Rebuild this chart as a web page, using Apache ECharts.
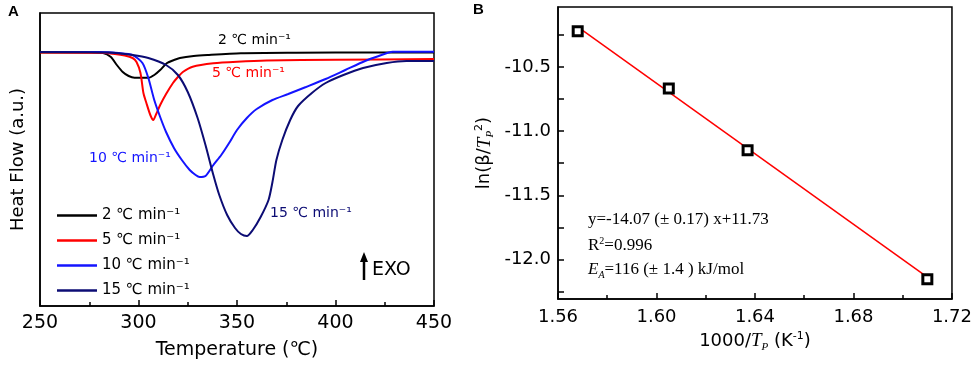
<!DOCTYPE html>
<html>
<head>
<meta charset="utf-8">
<script src="https://cdn.jsdelivr.net/npm/echarts@6/dist/echarts.min.js"></script>
<style>html,body{margin:0;padding:0;background:#fff}#main{width:975px;height:369px}</style>
</head>
<body>
<div id="main"></div>
<script>
// panel A - DSC curves at four heating rates
var rateNames = ['2 ℃ min⁻¹', '5 ℃ min⁻¹', '10 ℃ min⁻¹', '15 ℃ min⁻¹'];
var rateColors = ['#000000', '#ff0000', '#1414ff', '#0c0c74'];

var temp2 = [250, 275, 282, 286, 289, 292, 295, 298, 305, 308, 311, 314.5, 318, 321, 328, 335, 352, 380, 420, 450];
var hf2 = [-0.05, -0.05, -0.1, -0.5, -1.3, -2.0, -2.4, -2.57, -2.57, -2.3, -1.8, -1.1, -0.8, -0.6, -0.4, -0.3, -0.13, -0.08, -0.05, -0.05];

var temp5 = [250, 280, 288, 293, 297, 299, 301, 302.5, 304, 306, 307.5, 309, 311, 314, 317.5, 320, 322.5, 327.5, 338, 350, 365, 400, 450];
var hf5 = [-0.05, -0.08, -0.2, -0.35, -0.6, -1.0, -2.1, -4.1, -5.1, -6.3, -6.8, -6.2, -5.3, -4.2, -3.1, -2.5, -2.0, -1.47, -1.13, -0.97, -0.85, -0.78, -0.7];

var temp10 = [250, 280, 290, 297, 302, 305, 308, 311, 314, 318, 322, 326, 329, 331, 334, 338, 342, 346, 350, 355, 360, 368, 376, 385, 395, 405, 415, 422, 429, 450];
var hf10 = [0, 0, -0.1, -0.3, -1.1, -2.6, -4.8, -6.5, -8.0, -9.6, -10.8, -11.8, -12.3, -12.5, -12.4, -11.3, -10.3, -9.1, -7.8, -6.6, -5.7, -4.8, -4.2, -3.5, -2.7, -1.8, -0.9, -0.4, 0.03, 0.03];

var temp15 = [250, 285, 297, 305, 314, 320, 325, 330, 334, 338, 341, 345, 349, 352, 355, 358, 362, 366, 368, 370, 373, 377, 381, 388, 395, 404, 414, 426, 436, 450];
var hf15 = [0, -0.05, -0.3, -0.6, -1.3, -2.3, -4.0, -6.6, -9.3, -12.3, -14.3, -16.3, -17.6, -18.2, -18.4, -17.8, -16.5, -14.8, -13.0, -10.8, -8.8, -6.8, -5.4, -4.1, -3.1, -2.3, -1.6, -1.1, -0.9, -0.9];

// panel B - Kissinger plot
var invTp = [1.568, 1.605, 1.637, 1.710];
var lnBeta = [-10.219, -10.666, -11.148, -12.156];
var fitX = [1.569, 1.709];
var fitY = [-10.198, -12.125];
var bTickValues = [-12.25, -12, -11.75, -11.5, -11.25, -11, -10.75, -10.5, -10.25];
var bLabelValues = [-12, -11.5, -11, -10.5];

var sans = 'DejaVu Sans, Noto Sans CJK SC, sans-serif';
var serif = 'Liberation Serif, serif';

function pairs(xs, ys) {
  return xs.map(function (x, i) { return [x, ys[i]]; });
}

var curves = [[temp2, hf2], [temp5, hf5], [temp10, hf10], [temp15, hf15]];

var axLine = {onZero: false, lineStyle: {color: '#000', width: 1.5}};
var tickStyle = {color: '#000', width: 1.5};

var chart = echarts.init(document.getElementById('main'));

var series = curves.map(function (c, i) {
  return {
    name: rateNames[i],
    type: 'line',
    xAxisIndex: 0,
    yAxisIndex: 0,
    data: pairs(c[0], c[1]),
    symbol: 'none',
    smooth: 0.25,
    color: rateColors[i],
    lineStyle: {width: 2, color: rateColors[i]}
  };
});

series.push({
  type: 'line',
  xAxisIndex: 1,
  yAxisIndex: 1,
  data: pairs(fitX, fitY),
  symbol: 'none',
  lineStyle: {width: 1.5, color: '#ff0000'},
  z: 2
});
series.push({
  type: 'scatter',
  xAxisIndex: 1,
  yAxisIndex: 1,
  data: pairs(invTp, lnBeta),
  symbol: 'rect',
  symbolSize: 9,
  itemStyle: {color: '#fff', borderColor: '#000', borderWidth: 3, opacity: 1},
  z: 3
});

chart.setOption({
  animation: false,
  backgroundColor: '#fff',
  grid: [
    {left: 40, top: 13, width: 394, height: 293, show: true, borderColor: '#000', borderWidth: 1.5},
    {left: 558, top: 7, width: 394, height: 292, show: true, borderColor: '#000', borderWidth: 1.5}
  ],
  legend: {
    data: rateNames,
    orient: 'vertical',
    left: 52,
    top: 203,
    icon: 'rect',
    itemWidth: 40,
    itemHeight: 2.5,
    itemGap: 10,
    textStyle: {fontSize: 15, color: '#000', fontFamily: sans}
  },
  xAxis: [
    {
      gridIndex: 0, type: 'value', min: 250, max: 450, interval: 50,
      axisLine: axLine,
      axisTick: {inside: true, length: 6, lineStyle: tickStyle},
      minorTick: {show: true, splitNumber: 2, length: 4, lineStyle: tickStyle},
      axisLabel: {color: '#000', fontSize: 19, fontFamily: sans, margin: 8},
      splitLine: {show: false},
      name: 'Temperature (℃)', nameLocation: 'middle', nameGap: 35,
      nameTextStyle: {color: '#000', fontSize: 19, fontFamily: sans}
    },
    {
      gridIndex: 1, type: 'value', min: 1.56, max: 1.72, interval: 0.04,
      axisLine: axLine,
      axisTick: {inside: true, length: 6, lineStyle: tickStyle},
      minorTick: {show: true, splitNumber: 2, length: 4, lineStyle: tickStyle},
      axisLabel: {color: '#000', fontSize: 18, fontFamily: sans, margin: 9,
        formatter: function (v) { return v.toFixed(2); }},
      splitLine: {show: false},
      name: '{a|1000/}{t|T}{sub|P}{a| (K}{sup|-1}{a|)}', nameLocation: 'middle', nameGap: 30,
      nameTextStyle: {
        color: '#000', fontSize: 18, fontFamily: sans,
        rich: {
          a: {fontSize: 18, fontFamily: sans, color: '#000'},
          t: {fontSize: 19, fontFamily: serif, fontStyle: 'italic', color: '#000'},
          sub: {fontSize: 11, fontFamily: serif, fontStyle: 'italic', color: '#000', padding: [12, 0, 0, 0]},
          sup: {fontSize: 11, fontFamily: sans, color: '#000', padding: [0, 0, 10, 0]}
        }
      }
    }
  ],
  yAxis: [
    {
      gridIndex: 0, type: 'value', min: -25.4, max: 3.9,
      axisLine: axLine,
      axisTick: {show: false},
      axisLabel: {show: false},
      splitLine: {show: false},
      name: 'Heat Flow (a.u.)', nameLocation: 'middle', nameGap: 13,
      nameTextStyle: {color: '#000', fontSize: 18, fontFamily: sans}
    },
    {
      gridIndex: 1, type: 'value', min: -12.31, max: -10.03,
      axisLine: axLine,
      axisTick: {inside: true, length: 6, lineStyle: tickStyle, customValues: bTickValues},
      axisLabel: {color: '#000', fontSize: 18, fontFamily: sans, margin: 7,
        customValues: bLabelValues,
        formatter: function (v) { return v.toFixed(1); }},
      splitLine: {show: false},
      name: '{a|ln(β/}{t|T}{sub|P}{sup|2}{a|)}', nameLocation: 'middle', nameGap: 62,
      nameTextStyle: {
        color: '#000', fontSize: 18, fontFamily: sans,
        rich: {
          a: {fontSize: 18, fontFamily: sans, color: '#000'},
          t: {fontSize: 19, fontFamily: serif, fontStyle: 'italic', color: '#000'},
          sub: {fontSize: 11, fontFamily: serif, fontStyle: 'italic', color: '#000', padding: [12, 0, 0, 0]},
          sup: {fontSize: 11, fontFamily: sans, color: '#000', padding: [0, 0, 10, 0]}
        }
      }
    }
  ],
  graphic: [
    {type: 'text', x: 8, y: 12, style: {text: 'A', font: 'bold 15px Liberation Sans', fill: '#000', verticalAlign: 'middle'}},
    {type: 'text', x: 473, y: 10, style: {text: 'B', font: 'bold 15px Liberation Sans', fill: '#000', verticalAlign: 'middle'}},
    {type: 'text', x: 218, y: 40, style: {text: rateNames[0], fontSize: 14, fontFamily: sans, fill: rateColors[0], verticalAlign: 'middle'}},
    {type: 'text', x: 212, y: 73, style: {text: rateNames[1], fontSize: 14, fontFamily: sans, fill: rateColors[1], verticalAlign: 'middle'}},
    {type: 'text', x: 89, y: 158, style: {text: rateNames[2], fontSize: 14, fontFamily: sans, fill: rateColors[2], verticalAlign: 'middle'}},
    {type: 'text', x: 270, y: 213, style: {text: rateNames[3], fontSize: 14, fontFamily: sans, fill: rateColors[3], verticalAlign: 'middle'}},
    {type: 'line', shape: {x1: 364, y1: 280, x2: 364, y2: 259}, style: {stroke: '#000', lineWidth: 2.5}},
    {type: 'polygon', shape: {points: [[360, 262], [368, 262], [364, 252]]}, style: {fill: '#000'}},
    {type: 'text', x: 372, y: 270, style: {text: 'EXO', fontSize: 19, fontFamily: sans, fill: '#000', verticalAlign: 'middle'}},
    {type: 'text', x: 588, y: 220, style: {text: 'y=-14.07 (± 0.17) x+11.73', fontSize: 17, fontFamily: serif, fill: '#000', verticalAlign: 'middle'}},
    {type: 'text', x: 588, y: 246, style: {
      text: '{a|R}{sup|2}{a|=0.996}', verticalAlign: 'middle',
      rich: {
        a: {fontSize: 17, fontFamily: serif, fill: '#000'},
        sup: {fontSize: 10, fontFamily: serif, fill: '#000', padding: [0, 0, 10, 0]}
      }}},
    {type: 'text', x: 588, y: 270, style: {
      text: '{e|E}{sub|A}{a|=116 (± 1.4 ) kJ/mol}', verticalAlign: 'middle',
      rich: {
        a: {fontSize: 17, fontFamily: serif, fill: '#000'},
        e: {fontSize: 17, fontFamily: serif, fontStyle: 'italic', fill: '#000'},
        sub: {fontSize: 10, fontFamily: serif, fontStyle: 'italic', fill: '#000', padding: [10, 0, 0, 0]}
      }}}
  ],
  series: series
});
</script>
</body>
</html>
